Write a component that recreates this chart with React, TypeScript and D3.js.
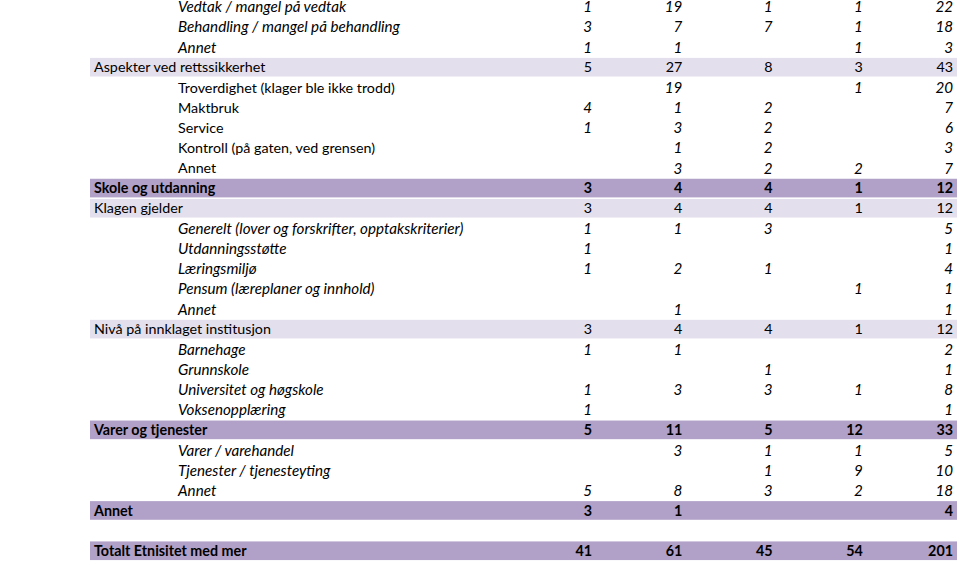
import React from "react";
import * as d3 from "d3";

const rowLabels = [
  "Vedtak / mangel på vedtak",
  "Behandling / mangel på behandling",
  "Annet",
  "Aspekter ved rettssikkerhet",
  "Troverdighet (klager ble ikke trodd)",
  "Maktbruk",
  "Service",
  "Kontroll (på gaten, ved grensen)",
  "Annet",
  "Skole og utdanning",
  "Klagen gjelder",
  "Generelt (lover og forskrifter, opptakskriterier)",
  "Utdanningsstøtte",
  "Læringsmiljø",
  "Pensum (læreplaner og innhold)",
  "Annet",
  "Nivå på innklaget institusjon",
  "Barnehage",
  "Grunnskole",
  "Universitet og høgskole",
  "Voksenopplæring",
  "Varer og tjenester",
  "Varer / varehandel",
  "Tjenester / tjenesteyting",
  "Annet",
  "Annet",
  "",
  "Totalt Etnisitet med mer",
];

// kinds: "sub" italic sub row, "plain" non-italic sub row, "group" light band, "main" dark band bold, "blank"
const rowKinds = [
  "sub", "sub", "sub",
  "group",
  "plain", "plain", "plain", "plain", "plain",
  "main",
  "group",
  "sub", "sub", "sub", "sub", "sub",
  "group",
  "sub", "sub", "sub", "sub",
  "main",
  "sub", "sub", "sub",
  "main",
  "blank",
  "main",
];

type V = number | null;
const col1: V[] = [1, 3, 1, 5, null, 4, 1, null, null, 3, 3, 1, 1, 1, null, null, 3, 1, null, 1, 1, 5, null, null, 5, 3, null, 41];
const col2: V[] = [19, 7, 1, 27, 19, 1, 3, 1, 3, 4, 4, 1, null, 2, null, 1, 4, 1, null, 3, null, 11, 3, null, 8, 1, null, 61];
const col3: V[] = [1, 7, null, 8, null, 2, 2, 2, 2, 4, 4, 3, null, 1, null, null, 4, null, 1, 3, null, 5, 1, 1, 3, null, null, 45];
const col4: V[] = [1, 1, 1, 3, 1, null, null, null, 2, 1, 1, null, null, null, 1, null, 1, null, null, 1, null, 12, 1, 9, 2, null, null, 54];
const totals: V[] = [22, 18, 3, 43, 20, 7, 6, 3, 7, 12, 12, 5, 1, 4, 1, 1, 12, 2, 1, 8, 1, 33, 5, 10, 18, 4, null, 201];

const columns = [col1, col2, col3, col4, totals];

const W = 960;
const H = 563;

export default function App() {
  const y = d3.scaleLinear().domain([0, rowLabels.length - 1]).range([7, 551]);
  const rowH = y(1) - y(0);
  const x = d3.scaleLinear().domain([0, columns.length - 1]).range([592, 953]);
  const font = "Lato, 'Open Sans', sans-serif";
  const fsRegular = 14.3;
  const fsItalic = 15.2;

  return (
    <svg
      width={W}
      height={H}
      style={{ position: "absolute", left: 0, top: 0, background: "#fff" }}
      fontFamily={font}
      fontSize={fsRegular}
    >
      <rect x={0} y={0} width={W} height={H} fill="#fff" />
      {rowLabels.map((label, i) => {
        const kind = rowKinds[i];
        const cy = y(i);
        const isBand = kind === "group" || kind === "main";
        const bold = kind === "main";
        const italic = kind === "sub";
        const labelX = isBand ? 94 : 178;
        return (
          <g key={i}>
            {isBand && (
              <rect
                x={90}
                y={cy - rowH / 2 + 0.5}
                width={867}
                height={rowH - 1.5}
                fill={kind === "main" ? "#b1a0c7" : "#e4dfec"}
              />
            )}
            <text
              x={labelX}
              y={cy}
              dy="0.35em"
              fill="#000"
              fontWeight={bold ? 700 : 400}
              fontStyle={italic ? "italic" : "normal"}
              fontSize={italic ? fsItalic : fsRegular}
            >
              {label}
            </text>
            {columns.map((col, j) => {
              const v = col[i];
              if (v === null) return null;
              return (
                <text
                  key={j}
                  x={x(j)}
                  y={cy}
                  dy="0.35em"
                  textAnchor="end"
                  fill="#000"
                  fontWeight={bold ? 700 : 400}
                  fontStyle={isBand ? "normal" : "italic"}
                  fontSize={isBand ? fsRegular : fsItalic}
                >
                  {v}
                </text>
              );
            })}
          </g>
        );
      })}
    </svg>
  );
}
